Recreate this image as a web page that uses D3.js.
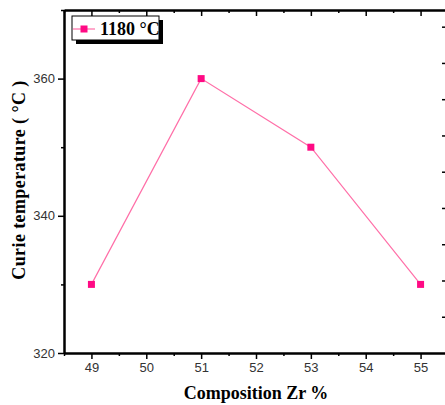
<!DOCTYPE html>
<html>
<head>
<meta charset="utf-8">
<script src="https://cdn.jsdelivr.net/npm/d3@7"></script>
<style>
  body { margin: 0; background: #fff; }
  svg { display: block; }
</style>
</head>
<body>
<div id="chart"></div>
<script>
// data
const composition = [49, 51, 53, 55];
const curieTemp = [330, 360, 350, 330];
const seriesName = "1180 °C";
const xTicks = [49, 50, 51, 52, 53, 54, 55];
const yTicks = [320, 340, 360];

const width = 445, height = 405;
const margin = { top: 10, right: -3, bottom: 52, left: 64 };

const svg = d3.select("#chart").append("svg")
  .attr("width", width)
  .attr("height", height);

const x = d3.scaleLinear()
  .domain([48.5, 55.5])
  .range([margin.left, width - margin.right]);

const y = d3.scaleLinear()
  .domain([320, 370])
  .range([height - margin.bottom, margin.top]);

// right axis has its own spacing in the reference
const yRight = d3.scaleLinear()
  .domain([0, 9.46])
  .range([height - margin.bottom, margin.top]);

const minorX = d3.range(48.5, 55.51, 0.5).filter(v => !xTicks.includes(v));
const minorY = [330, 350, 370];

function styleAxis(g) {
  g.select(".domain").attr("stroke", "#000").attr("stroke-width", 2);
  g.selectAll(".tick line").attr("stroke", "#000").attr("stroke-width", 1.5);
  g.selectAll(".tick text")
    .attr("fill", "#333")
    .style("font-family", "'Liberation Sans', Arial, sans-serif")
    .style("font-size", "13px");
}

// bottom axis
svg.append("g")
  .attr("transform", `translate(0,${y(320)})`)
  .call(d3.axisBottom(x).tickValues(xTicks).tickFormat(d3.format("d")).tickSize(6).tickPadding(4).tickSizeOuter(0))
  .call(styleAxis);
svg.append("g")
  .attr("transform", `translate(0,${y(320)})`)
  .call(d3.axisBottom(x).tickValues(minorX).tickFormat("").tickSize(3).tickSizeOuter(0))
  .call(styleAxis);

// top axis, ticks inward
svg.append("g")
  .attr("transform", `translate(0,${y(370)})`)
  .call(d3.axisTop(x).tickValues(xTicks).tickFormat("").tickSize(-6).tickSizeOuter(0))
  .call(styleAxis);
svg.append("g")
  .attr("transform", `translate(0,${y(370)})`)
  .call(d3.axisTop(x).tickValues(minorX).tickFormat("").tickSize(-3).tickSizeOuter(0))
  .call(styleAxis);

// left axis
svg.append("g")
  .attr("transform", `translate(${x(48.5)},0)`)
  .call(d3.axisLeft(y).tickValues(yTicks).tickFormat(d3.format("d")).tickSize(6).tickPadding(3).tickSizeOuter(0))
  .call(styleAxis);
svg.append("g")
  .attr("transform", `translate(${x(48.5)},0)`)
  .call(d3.axisLeft(y).tickValues(minorY).tickFormat("").tickSize(3).tickSizeOuter(0))
  .call(styleAxis);

// right side tick marks (frame itself falls outside the picture)
svg.append("g")
  .attr("transform", `translate(${x(55.5)},0)`)
  .call(d3.axisRight(yRight).tickValues(d3.range(1, 10)).tickFormat("").tickSize(-6).tickSizeOuter(0))
  .call(styleAxis);

// line + markers
const pts = composition.map((c, i) => [c, curieTemp[i]]);

svg.append("path")
  .datum(pts)
  .attr("fill", "none")
  .attr("stroke", "#ff6fa8")
  .attr("stroke-width", 1.2)
  .attr("d", d3.line().x(d => x(d[0])).y(d => y(d[1])));

svg.selectAll("rect.pt")
  .data(pts)
  .enter().append("rect")
  .attr("class", "pt")
  .attr("x", d => x(d[0]) - 3.5)
  .attr("y", d => y(d[1]) - 3.5)
  .attr("width", 7)
  .attr("height", 7)
  .attr("fill", "#ff0a84");

// axis titles
svg.append("text")
  .attr("x", x(52))
  .attr("y", 399)
  .attr("text-anchor", "middle")
  .style("font-family", "'Liberation Serif', 'Times New Roman', serif")
  .style("font-weight", "bold")
  .style("font-size", "18px")
  .text("Composition Zr %");

svg.append("text")
  .attr("transform", `translate(25,180) rotate(-90)`)
  .attr("text-anchor", "middle")
  .style("font-family", "'Liberation Serif', 'Times New Roman', serif")
  .style("font-weight", "bold")
  .style("font-size", "18px")
  .style("letter-spacing", "0.4px")
  .text("Curie temperature ( °C )");

// legend with drop shadow
const lg = svg.append("g").attr("transform", "translate(72,16)");
lg.append("rect").attr("x", 4).attr("y", 4).attr("width", 87).attr("height", 24).attr("fill", "#000");
lg.append("rect").attr("x", 0).attr("y", 0).attr("width", 87).attr("height", 24)
  .attr("fill", "#fff").attr("stroke", "#000").attr("stroke-width", 1);
lg.append("line").attr("x1", 1).attr("x2", 23).attr("y1", 13).attr("y2", 13)
  .attr("stroke", "#ff6fa8").attr("stroke-width", 1.2);
lg.append("rect").attr("x", 8.5).attr("y", 9.5).attr("width", 7).attr("height", 7).attr("fill", "#ff0a84");
lg.append("text")
  .attr("x", 28).attr("y", 19)
  .style("font-family", "'Liberation Serif', 'Times New Roman', serif")
  .style("font-weight", "bold")
  .style("font-size", "18px")
  .text(seriesName);
</script>
</body>
</html>
